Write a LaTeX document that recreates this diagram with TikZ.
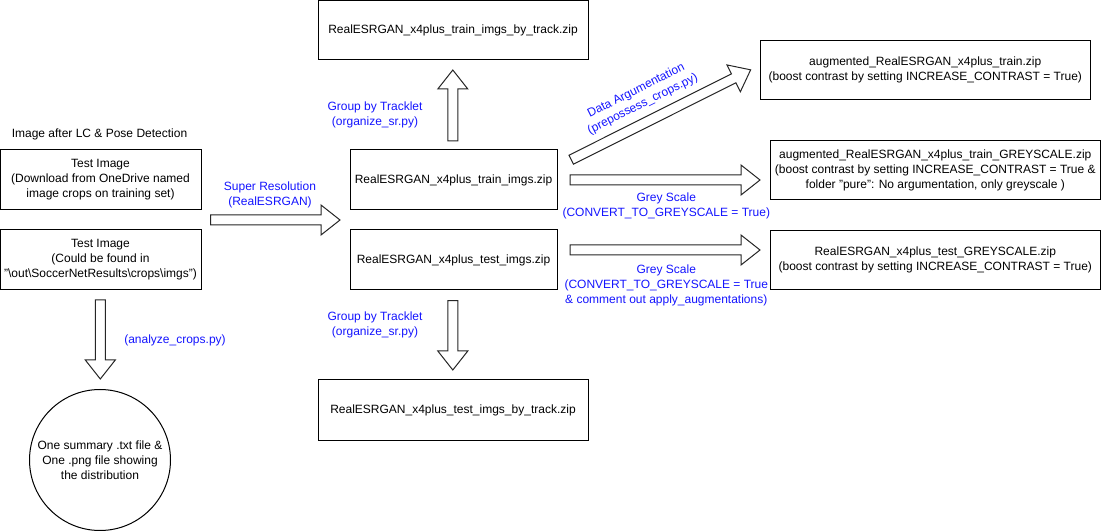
\documentclass[tikz,border=0pt]{standalone}
\usepackage{fontspec}
\setmainfont{Liberation Sans}
\definecolor{lblue}{RGB}{20,20,255}
\begin{document}
\begin{tikzpicture}[x=0.75pt,y=-0.75pt,
  txt/.style={font=\fontsize{9}{11.25}\selectfont},
  box/.style={txt, draw=black, line width=0.75pt, rectangle, inner sep=0pt, align=center},
  lbl/.style={txt, text=lblue, align=center, inner sep=0pt},
  arrowshape/.style={draw=black!85, fill=white, line width=0.75pt, line join=miter},
  pics/barrow/.style={code={
    \draw[arrowshape] (0,-5) -- ({#1-19},-5) -- ({#1-19},-15) -- (#1,0)
      -- ({#1-19},15) -- ({#1-19},5) -- (0,5) -- cycle;}}
]
\useasboundingbox (0,0) rectangle (1101,531);

% left column
\node[txt, inner sep=0pt] (title) at (99.5,134.5) {Image after LC \& Pose Detection};
\node[box, minimum width=201*0.75pt, minimum height=60*0.75pt] (imgA) at (100.5,180)
  {Test Image\\(Download from OneDrive named\\image crops on training set)};
\node[box, minimum width=201*0.75pt, minimum height=60*0.75pt] (imgB) at (100.5,260)
  {Test Image\\(Could be found in\\"\textbackslash out\textbackslash SoccerNetResults\textbackslash crops\textbackslash imgs")};
\node[box, circle, minimum size=141*0.75pt] (summary) at (100,460)
  {One summary .txt file \&\\One .png file showing\\the distribution};

% middle column
\node[box, minimum width=207*0.75pt, minimum height=60*0.75pt] (train) at (453.5,180)
  {RealESRGAN\_x4plus\_train\_imgs.zip};
\node[box, minimum width=207*0.75pt, minimum height=60*0.75pt] (test) at (453.5,260)
  {RealESRGAN\_x4plus\_test\_imgs.zip};
\node[box, minimum width=270*0.75pt, minimum height=59*0.75pt] (trtrack) at (453,30.5)
  {RealESRGAN\_x4plus\_train\_imgs\_by\_track.zip};
\node[box, minimum width=270*0.75pt, minimum height=60*0.75pt] (tetrack) at (453,410)
  {RealESRGAN\_x4plus\_test\_imgs\_by\_track.zip};

% right column
\node[box, minimum width=330*0.75pt, minimum height=59.3*0.75pt] (aug) at (925.3,70.3)
  {augmented\_RealESRGAN\_x4plus\_train.zip\\(boost contrast by setting INCREASE\_CONTRAST = True)};
\node[box, minimum width=329.5*0.75pt, minimum height=59.3*0.75pt] (auggrey) at (935.3,170.3)
  {augmented\_RealESRGAN\_x4plus\_train\_GREYSCALE.zip\\(boost contrast by setting INCREASE\_CONTRAST = True \&\\folder "pure": No argumentation, only greyscale )};
\node[box, minimum width=329.5*0.75pt, minimum height=59.3*0.75pt] (testgrey) at (935.3,260.3)
  {RealESRGAN\_x4plus\_test\_GREYSCALE.zip\\(boost contrast by setting INCREASE\_CONTRAST = True)};

% block arrows (tails as named coordinates)
\coordinate (srTail) at (210.7,220);
\pic[rotate=0] at (srTail) {barrow=129.3};
\coordinate (anTail) at (100.3,300);
\pic[rotate=-90] at (anTail) {barrow=79};
\coordinate (upTail) at (452.8,141);
\pic[rotate=90] at (upTail) {barrow=71};
\coordinate (dnTail) at (452.8,300.7);
\pic[rotate=-90] at (dnTail) {barrow=69.3};
\coordinate (daTail) at (571.2,159.7);
\pic[rotate=26.6] at (daTail) {barrow=200.7};
\coordinate (gs1Tail) at (570,180);
\pic[rotate=0] at (gs1Tail) {barrow=190};
\coordinate (gs2Tail) at (570,250);
\pic[rotate=0] at (gs2Tail) {barrow=190};

% labels
\node[lbl] (lblSR) at (270,195.2) {Super Resolution\\(RealESRGAN)};
\node[lbl] (lblAN) at (175,340.7) {(analyze\_crops.py)};
\node[lbl] (lblUp) at (375,115.3) {Group by Tracklet\\(organize\_sr.py)};
\node[lbl] (lblDn) at (375,325.3) {Group by Tracklet\\(organize\_sr.py)};
\node[lbl, rotate=26.6] (lblDA) at (639.5,97.5) {Data Argumentation\\(prepossess\_crops.py)};
\node[lbl] (lblGS1) at (666.3,205.5) {Grey Scale\\(CONVERT\_TO\_GREYSCALE = True)};
\node[lbl] (lblGS2) at (666.3,285.5) {Grey Scale\\(CONVERT\_TO\_GREYSCALE = True\\\& comment out apply\_augmentations)};
\end{tikzpicture}
\end{document}
